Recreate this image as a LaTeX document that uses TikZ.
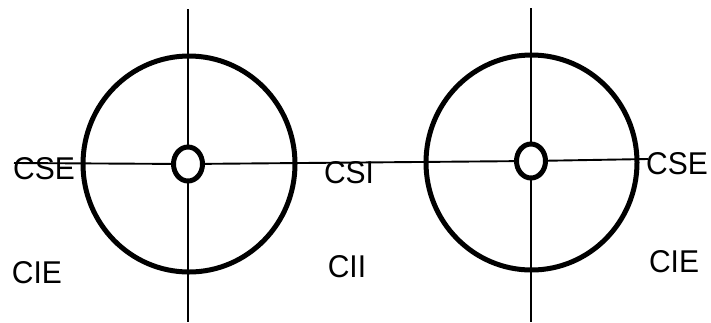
\documentclass[tikz,border=0pt]{standalone}
\usepackage{fontspec}
\setmainfont{Liberation Sans}
\usetikzlibrary{shapes.geometric}
\begin{document}
\begin{tikzpicture}[x=1pt,y=-1pt,
  axis/.style={line width=1.9pt},
  ring/.style={line width=5pt},
  hub/.style={draw,ellipse,line width=5pt,fill=white,inner sep=0pt,minimum width=29pt,minimum height=34pt},
  lbl/.style={font=\fontsize{30}{30}\selectfont,inner sep=0pt,yscale=1.05}]
\useasboundingbox (0,0) rectangle (711,322);
% vertical axes
\draw[axis](188,9)--(188,322);
\draw[axis](531,8)--(531,322);
% outer rings
\draw[ring](189,164) ellipse[x radius=106pt,y radius=108pt];
\draw[ring](531.5,162.5) ellipse[x radius=105.5pt,y radius=107.5pt];
% hubs and the horizontal line
\coordinate (lineL) at (14,163);
\coordinate (lineR) at (648,159);
\node[hub] (hubL) at (188,164) {};
\node[hub] (hubR) at (531,161) {};
\draw[axis](lineL)--(hubL);
\draw[axis](hubL)--(hubR);
\draw[axis](hubR)--(lineR);
% labels
\node[lbl] (cseL) at (44,168.5) {CSE};
\node[lbl] (csi) at (349,172.5) {CSI};
\node[lbl] (cseR) at (677,164) {CSE};
\node[lbl] (cieL) at (37,273) {CIE};
\node[lbl] (cii) at (347,267) {CII};
\node[lbl] (cieR) at (674,262) {CIE};
\end{tikzpicture}
\end{document}
